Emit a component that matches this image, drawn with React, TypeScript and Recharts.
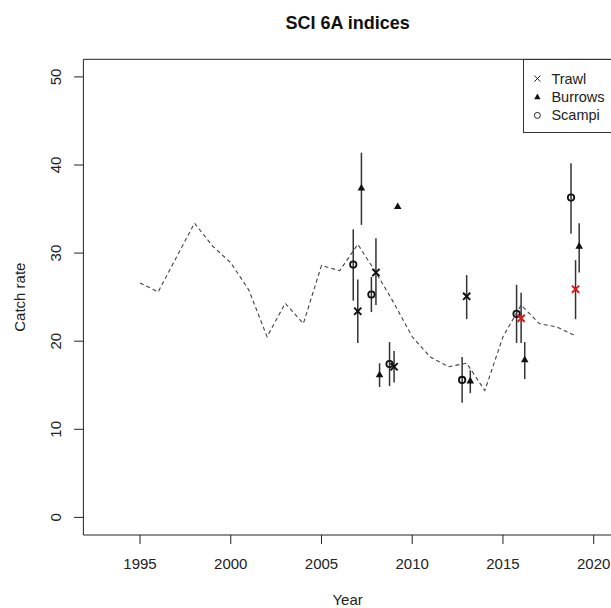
import React from "react";
import {
  ComposedChart,
  Line,
  Scatter,
  ErrorBar,
  XAxis,
  YAxis,
  ReferenceArea,
  Legend,
} from "recharts";

const FONT = '"Liberation Sans", Arial, sans-serif';

// model fit (dashed)
const fitYears = [
  1995, 1996, 1997, 1998, 1999, 2000, 2001, 2002, 2003, 2004, 2005, 2006, 2007,
  2008, 2009, 2010, 2011, 2012, 2013, 2014, 2015, 2016, 2017, 2018, 2019,
];
const fitRate = [
  26.6, 25.6, 29.5, 33.4, 30.8, 28.9, 25.8, 20.5, 24.3, 22.0, 28.6, 28.0, 31.0,
  27.8, 24.3, 20.5, 18.2, 17.1, 17.5, 14.4, 20.5, 24.1, 22.0, 21.6, 20.6,
];

// Trawl index
const trawlYears = [2007, 2008, 2009, 2013, 2016, 2019];
const trawlRate = [23.4, 27.8, 17.1, 25.1, 22.6, 25.9];
const trawlLow = [19.8, 24.1, 15.3, 22.5, 19.8, 22.5];
const trawlHigh = [27.0, 31.7, 18.9, 27.5, 25.5, 29.2];
const trawlNewGear = [false, false, false, false, true, true];

// Burrows index
const burrowYears = [2007, 2008, 2009, 2013, 2016, 2019];
const burrowRate = [37.4, 16.2, 35.3, 15.5, 17.9, 30.8];
const burrowLow = [33.2, 14.8, 35.0, 14.1, 15.7, 27.8];
const burrowHigh = [41.4, 17.5, 35.6, 16.7, 19.9, 33.4];
const BURROW_SHIFT = 0.2;

// Scampi index
const scampiYears = [2007, 2008, 2009, 2013, 2016, 2019];
const scampiRate = [28.7, 25.3, 17.4, 15.6, 23.1, 36.3];
const scampiLow = [24.6, 23.3, 14.9, 13.0, 19.8, 32.2];
const scampiHigh = [32.7, 27.3, 19.9, 18.2, 26.4, 40.2];
const SCAMPI_SHIFT = -0.25;

const xTicks = [1995, 2000, 2005, 2010, 2015, 2020];
const yTicks = [0, 10, 20, 30, 40, 50];

const fitData = fitYears.map((year, i) => ({ year, v: fitRate[i] }));
const trawlData = trawlYears.map((year, i) => ({
  year,
  v: trawlRate[i],
  err: [trawlRate[i] - trawlLow[i], trawlHigh[i] - trawlRate[i]],
  flag: trawlNewGear[i],
}));
const burrowData = burrowYears.map((year, i) => ({
  year: year + BURROW_SHIFT,
  v: burrowRate[i],
  err: [burrowRate[i] - burrowLow[i], burrowHigh[i] - burrowRate[i]],
}));
const scampiData = scampiYears.map((year, i) => ({
  year: year + SCAMPI_SHIFT,
  v: scampiRate[i],
  err: [scampiRate[i] - scampiLow[i], scampiHigh[i] - scampiRate[i]],
}));

const Cross = (props: any) => {
  const { cx, cy, payload } = props;
  const c = payload && payload.flag ? "#e01414" : "#111";
  const s = 3.6;
  return (
    <g>
      <line x1={cx - s} y1={cy - s} x2={cx + s} y2={cy + s} stroke={c} strokeWidth={2} />
      <line x1={cx - s} y1={cy + s} x2={cx + s} y2={cy - s} stroke={c} strokeWidth={2} />
    </g>
  );
};

const Tri = (props: any) => {
  const { cx, cy } = props;
  return (
    <polygon
      points={`${cx},${cy - 4} ${cx + 3.8},${cy + 2.6} ${cx - 3.8},${cy + 2.6}`}
      fill="#111"
    />
  );
};

const Ring = (props: any) => {
  const { cx, cy } = props;
  return <circle cx={cx} cy={cy} r={3.2} fill="none" stroke="#111" strokeWidth={1.8} />;
};

const YTick = ({ x, y, payload }: any) => (
  <text
    x={x}
    y={y}
    transform={`rotate(-90 ${x} ${y})`}
    textAnchor="middle"
    fontSize={15}
    fill="#222"
    fontFamily={FONT}
  >
    {payload.value}
  </text>
);

const renderLegend = () => (
  <svg width={100} height={75} style={{ display: "block" }}>
    <rect x={0.5} y={0.5} width={120} height={73} fill="#fff" stroke="#333" />
    <g fontFamily={FONT} fontSize={14.5} fill="#222">
      <line x1={11.4} y1={16.6} x2={17.4} y2={22.6} stroke="#222" />
      <line x1={11.4} y1={22.6} x2={17.4} y2={16.6} stroke="#222" />
      <text x={28.4} y={25}>Trawl</text>
      <polygon points="14.4,34.5 17.6,40.2 11.2,40.2" fill="#111" />
      <text x={28.4} y={43.2}>Burrows</text>
      <circle cx={14.4} cy={56.4} r={3} fill="none" stroke="#222" />
      <text x={28.4} y={61.4}>Scampi</text>
    </g>
  </svg>
);

export default function App() {
  return (
    <div
      style={{
        position: "fixed",
        left: 0,
        top: 0,
        width: 611,
        height: 608,
        overflow: "hidden",
        background: "#fff",
        fontFamily: FONT,
      }}
    >
      <div
        style={{
          position: "absolute",
          left: 83.4,
          width: 528.5,
          top: 12.7,
          lineHeight: "20px",
          textAlign: "center",
          fontWeight: "bold",
          fontSize: 18,
          color: "#111",
        }}
      >
        SCI 6A indices
      </div>
      <ComposedChart
        width={640}
        height={608}
        margin={{ top: 59.3, right: 28.15, bottom: 0, left: 0 }}
      >
        <XAxis
          dataKey="year"
          type="number"
          domain={[1991.88, 2021]}
          allowDataOverflow
          ticks={xTicks}
          interval={0}
          height={73}
          tickSize={9}
          tickMargin={14}
          axisLine={false}
          tickLine={{ stroke: "#222" }}
          tick={{ fontSize: 15, fill: "#222", fontFamily: FONT }}
          label={{
            value: "Year",
            position: "insideBottom",
            offset: 3,
            fontSize: 15,
            fill: "#222",
            fontFamily: FONT,
          }}
        />
        <YAxis
          type="number"
          domain={[-2, 52]}
          allowDataOverflow
          ticks={yTicks}
          interval={0}
          width={83.4}
          tickSize={9.3}
          tickMargin={13.3}
          axisLine={false}
          tickLine={{ stroke: "#222" }}
          tick={<YTick />}
          label={{
            value: "Catch rate",
            angle: -90,
            position: "insideLeft",
            offset: 20,
            fontSize: 15,
            fill: "#222",
            fontFamily: FONT,
            style: { textAnchor: "middle" },
          }}
        />
        <ReferenceArea
          x1={1991.88}
          x2={2021}
          y1={-2}
          y2={52}
          fill="none"
          stroke="#222"
          strokeWidth={1}
        />
        <Line
          data={fitData}
          dataKey="v"
          type="linear"
          stroke="#444"
          strokeWidth={1.1}
          strokeDasharray="4 3"
          dot={false}
          activeDot={false}
          isAnimationActive={false}
        />
        <Scatter data={scampiData} dataKey="v" shape={<Ring />} isAnimationActive={false}>
          <ErrorBar dataKey="err" direction="y" width={0} stroke="#333" strokeWidth={1.5} />
        </Scatter>
        <Scatter data={burrowData} dataKey="v" shape={<Tri />} isAnimationActive={false}>
          <ErrorBar dataKey="err" direction="y" width={0} stroke="#333" strokeWidth={1.5} />
        </Scatter>
        <Scatter data={trawlData} dataKey="v" shape={<Cross />} isAnimationActive={false}>
          <ErrorBar dataKey="err" direction="y" width={0} stroke="#333" strokeWidth={1.5} />
        </Scatter>
        <Legend
          layout="vertical"
          align="center"
          verticalAlign="middle"
          content={renderLegend}
          wrapperStyle={{ left: 523.3, top: 59.3, width: 100, height: 75 }}
        />
      </ComposedChart>
    </div>
  );
}
